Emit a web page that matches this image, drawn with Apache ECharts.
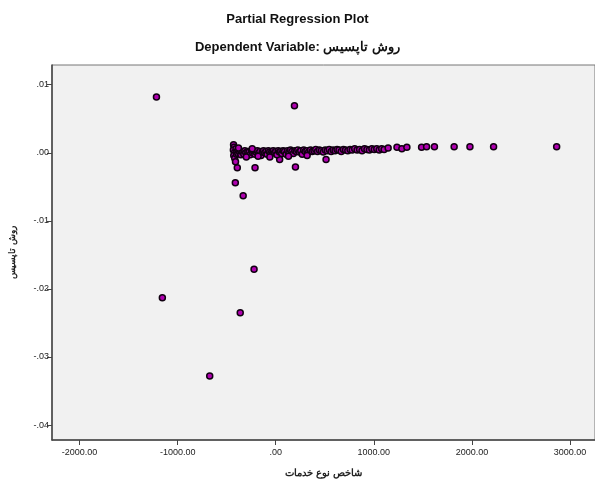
<!DOCTYPE html>
<html>
<head>
<meta charset="utf-8">
<script src="https://cdn.jsdelivr.net/npm/echarts@6/dist/echarts.min.js"></script>
<style>
  html, body { margin: 0; padding: 0; background: #fff; }
  #chart { width: 595px; height: 484px; }
</style>
</head>
<body>
<div id="chart"></div>
<script>
// tick values / labels (SPSS style)
const xTickValues = [-2000, -1000, 0, 1000, 2000, 3000]
const xTickLabels = ['-2000.00', '-1000.00', '.00', '1000.00', '2000.00', '3000.00']
const yTickValues = [-0.04, -0.03, -0.02, -0.01, 0, 0.01]
const yTickLabels = ['-.04', '-.03', '-.02', '-.01', '.00', '.01']

// isolated points
const spreadPoints = [
  [-1216, 0.0082], [191, 0.0069], [-1156, -0.0213], [-221, -0.0171],
  [-362, -0.0235], [-673, -0.0328], [-332, -0.0063], [-412, -0.0044],
  [-392, -0.0022], [-211, -0.0022], [201, -0.0021], [40, -0.0010],
  [513, -0.0010]
]

// left vertical stack of the cluster
const stackPoints = [
  [-430, 0.0012], [-425, 0.0008], [-432, 0.0004], [-420, 0.0000],
  [-428, -0.0004], [-418, -0.0008], [-410, -0.0013], [-405, 0.0006],
  [-400, -0.0002]
]

// the dense band along zero
const bandPoints = [
  [-395, 0.0002], [-385, -0.0001], [-375, 0.0003], [-365, 0.0000], [-355, -0.0003],
  [-345, 0.0002], [-335, 0.0001], [-325, -0.0002], [-315, 0.0003], [-305, 0.0000],
  [-295, -0.0004], [-285, 0.0002], [-272, 0.0001], [-260, -0.0003], [-248, 0.0003],
  [-236, 0.0000], [-224, 0.0002], [-212, -0.0002], [-200, 0.0001], [-188, 0.0003],
  [-175, -0.0001], [-162, 0.0002], [-150, -0.0004], [-138, 0.0001], [-125, 0.0003],
  [-112, 0.0000], [-100, 0.0002], [-88, -0.0002], [-75, 0.0003], [-62, 0.0001],
  [-50, -0.0001], [-38, 0.0002], [-25, 0.0003], [-12, 0.0000], [0, 0.0002],
  [12, -0.0003], [25, 0.0003], [38, 0.0001], [50, 0.0002], [62, -0.0001],
  [75, 0.0003], [90, 0.0002], [105, -0.0002], [120, 0.0003], [135, 0.0001],
  [150, 0.0004], [165, 0.0002], [180, -0.0001], [195, 0.0003], [210, 0.0002],
  [225, 0.0004], [240, 0.0001], [255, 0.0003], [270, -0.0002], [285, 0.0004],
  [300, 0.0002], [318, 0.0003], [336, 0.0001], [354, 0.0004], [372, 0.0002],
  [390, 0.0003], [408, 0.0005], [426, 0.0002], [445, 0.0004], [465, 0.0003],
  [485, 0.0001], [505, 0.0004], [525, 0.0003], [545, 0.0005], [565, 0.0002],
  [585, 0.0004], [605, 0.0003], [625, 0.0005], [645, 0.0004], [668, 0.0002],
  [690, 0.0005], [712, 0.0004], [735, 0.0003], [758, 0.0005], [780, 0.0004],
  [805, 0.0006], [830, 0.0004], [855, 0.0005], [880, 0.0003], [905, 0.0006],
  [930, 0.0005], [955, 0.0004], [980, 0.0006], [1005, 0.0005], [1030, 0.0006],
  [1055, 0.0004], [1080, 0.0006], [1105, 0.0005], [-300, -0.0006], [-180, -0.0005],
  [-60, -0.0006], [130, -0.0005], [320, -0.0004], [-380, 0.0007], [-240, 0.0006]
]

// sparse points on the right
const rightPoints = [
  [1146, 0.0007], [1236, 0.0008], [1286, 0.0006], [1337, 0.0008],
  [1487, 0.0008], [1538, 0.0009], [1618, 0.0009], [1819, 0.0009],
  [1980, 0.0009], [2221, 0.0009], [2864, 0.0009]
]

const chart = echarts.init(document.getElementById('chart'), null, { renderer: 'canvas' })

const axisText = { color: '#222', fontSize: 9, fontFamily: 'Liberation Sans, Arial, sans-serif' }

const option = {
  backgroundColor: '#fff',
  animation: false,
  title: [
    {
      text: 'Partial Regression Plot',
      left: 'center',
      top: 8,
      textStyle: { fontSize: 13, fontWeight: 'bold', color: '#111', fontFamily: 'Liberation Sans, Arial, sans-serif' }
    },
    {
      text: 'Dependent Variable: روش تاپسیس',
      left: 'center',
      top: 36,
      textStyle: { fontSize: 13, fontWeight: 'bold', color: '#111', fontFamily: 'Liberation Sans, Arial, sans-serif' }
    }
  ],
  grid: {
    left: 46,
    right: 0,
    top: 65,
    bottom: 44,
    show: true,
    backgroundColor: '#f1f1f1',
    borderColor: '#777',
    borderWidth: 1
  },
  xAxis: {
    type: 'value',
    min: -2281,
    max: 3255,
    name: 'شاخص نوع خدمات',
    nameLocation: 'middle',
    nameGap: 28,
    nameTextStyle: { fontSize: 10, fontWeight: 'bold', color: '#222' },
    axisLine: { show: true, onZero: false, lineStyle: { color: '#444', width: 1.5 } },
    axisTick: { show: true, length: 5, customValues: xTickValues, lineStyle: { color: '#444' } },
    axisLabel: {
      ...axisText,
      customValues: xTickValues,
      formatter: v => xTickLabels[xTickValues.indexOf(v)]
    },
    splitLine: { show: false }
  },
  yAxis: {
    type: 'value',
    min: -0.0422,
    max: 0.0129,
    name: 'روش تاپسیس',
    nameLocation: 'middle',
    nameGap: 35,
    nameTextStyle: { fontSize: 9, fontWeight: 'bold', color: '#222' },
    axisLine: { show: true, onZero: false, lineStyle: { color: '#444', width: 1.5 } },
    axisTick: { show: true, length: 5, customValues: yTickValues, lineStyle: { color: '#444' } },
    axisLabel: {
      ...axisText,
      margin: 3,
      customValues: yTickValues,
      formatter: v => yTickLabels[yTickValues.findIndex(t => Math.abs(t - v) < 1e-9)]
    },
    splitLine: { show: false }
  },
  series: [
    {
      type: 'scatter',
      data: [...spreadPoints, ...stackPoints, ...bandPoints, ...rightPoints],
      symbolSize: 6,
      itemStyle: {
        color: '#b000b0',
        borderColor: '#100010',
        borderWidth: 1.5,
        opacity: 1
      }
    }
  ]
}

chart.setOption(option)
</script>
</body>
</html>
